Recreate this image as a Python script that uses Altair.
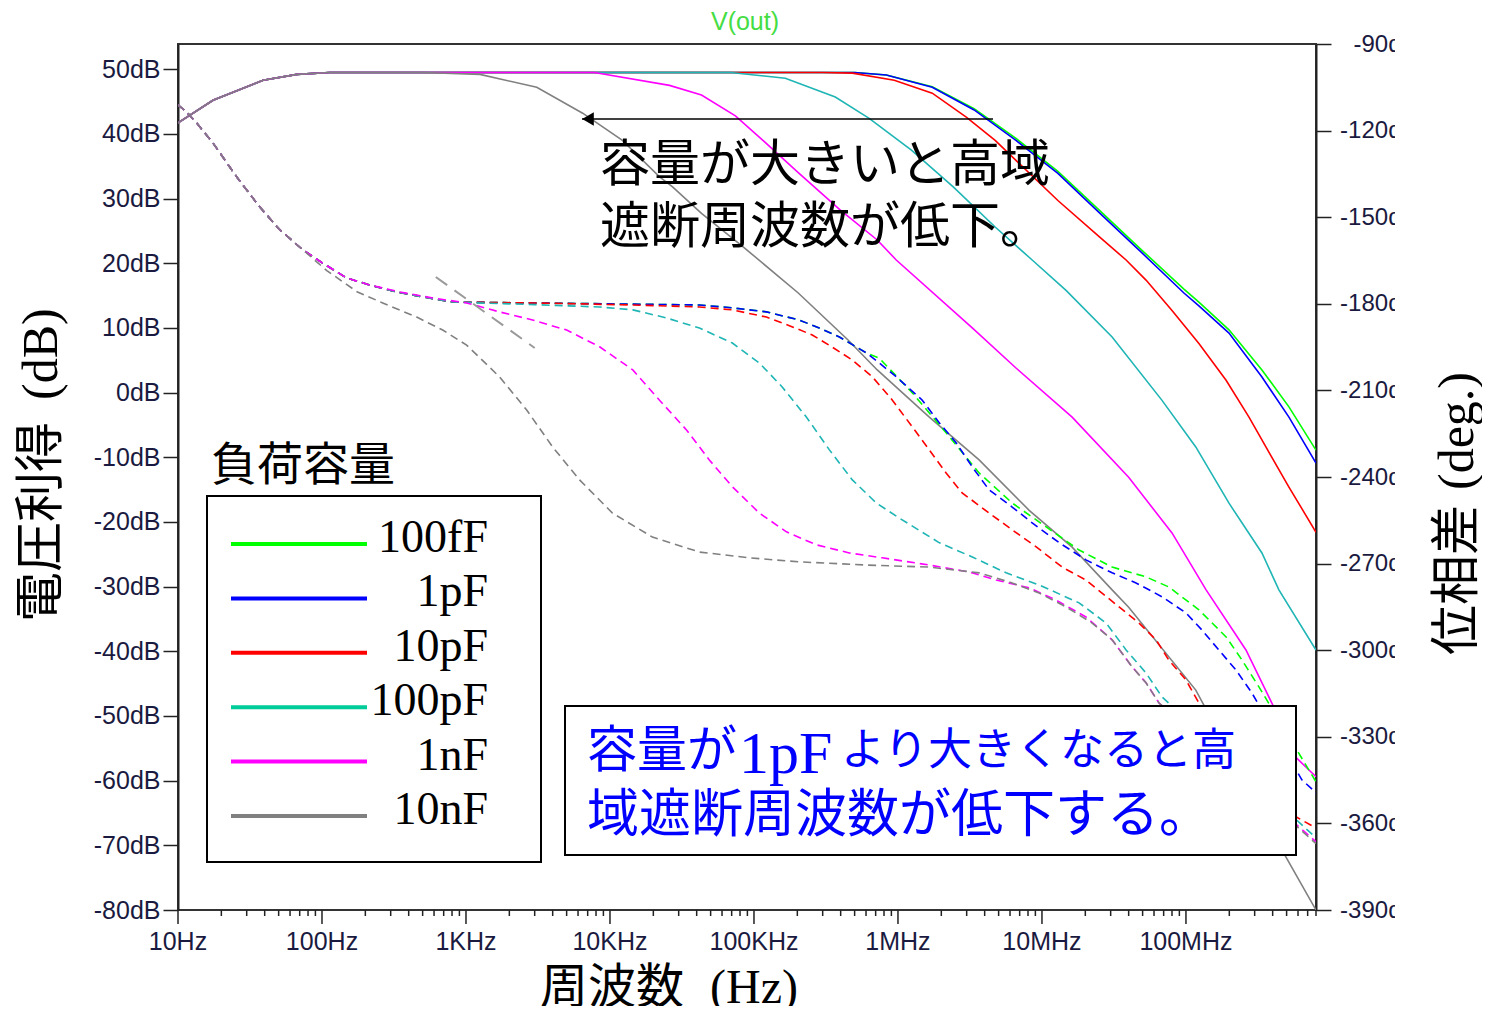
import altair as alt
import pandas as pd

# ---------------- data ----------------
CAPS = ["100fF", "1pF", "10pF", "100pF", "1nF", "10nF"]
LINE_COLORS = ["#00ff00", "#0000ff", "#ff0000", "#1fb5b5", "#ff00ff", "#808080"]
LEGEND_COLORS = ["#00ff00", "#0000ff", "#ff0000", "#00cc99", "#ff00ff", "#808080"]

X_TICKS = [10, 100, 1e3, 1e4, 1e5, 1e6, 1e7, 1e8]
X_LABELS = ["10Hz", "100Hz", "1KHz", "10KHz", "100KHz", "1MHz", "10MHz", "100MHz"]
GAIN_TICKS = [-80, -70, -60, -50, -40, -30, -20, -10, 0, 10, 20, 30, 40, 50]
PHASE_TICKS = [-390, -360, -330, -300, -270, -240, -210, -180, -150, -120, -90]
MINOR_F = [k * 10 ** e for e in range(1, 9) for k in range(2, 10) if k * 10 ** e <= 8e8]

# gain (dB) of each load capacitance
G_100fF_F = [10, 17.5, 39, 67, 113, 500e3, 830e3, 1.73e6, 3.38e6, 6.6e6, 12.9e6, 25.3e6, 49.5e6, 96.8e6, 123e6, 199e6, 337e6, 519e6, 8e8]
G_100fF_V = [41.7, 45.2, 48.3, 49.2, 49.5, 49.5, 49.1, 47.3, 43.9, 39.3, 34.2, 28.1, 22.0, 16.0, 14.0, 9.7, 3.5, -2.2, -8.9]
G_1pF_F = [10, 17.5, 39, 67, 113, 500e3, 830e3, 1.73e6, 3.38e6, 6.6e6, 12.9e6, 25.3e6, 49.5e6, 96.8e6, 123e6, 199e6, 337e6, 519e6, 8e8]
G_1pF_V = [41.7, 45.2, 48.3, 49.2, 49.5, 49.5, 49.1, 47.2, 43.7, 39.0, 33.9, 27.7, 21.6, 15.4, 13.4, 9.2, 2.4, -3.8, -10.9]
G_10pF_F = [10, 17.5, 39, 67, 113, 300e3, 482e3, 942e3, 1.73e6, 2.98e6, 4.73e6, 6.6e6, 12.9e6, 25.3e6, 38.4e6, 52.8e6, 80e6, 123e6, 190e6, 274e6, 359e6, 519e6, 8e8]
G_10pF_V = [41.7, 45.2, 48.3, 49.2, 49.5, 49.5, 49.4, 48.3, 46.3, 42.6, 39.0, 35.9, 29.7, 24.0, 20.5, 17.4, 12.7, 7.6, 1.9, -3.8, -8.4, -14.6, -21.6]
G_100pF_F = [10, 17.5, 39, 67, 113, 68.7e3, 165e3, 367e3, 631e3, 1.24e6, 2.42e6, 4.73e6, 8.55e6, 14.7e6, 30.7e6, 68.2e6, 117e6, 199e6, 337e6, 442e6, 8e8]
G_100pF_V = [41.7, 45.2, 48.3, 49.2, 49.5, 49.5, 48.6, 45.7, 42.4, 37.5, 31.8, 25.6, 20.5, 15.8, 8.6, -1.2, -8.4, -17.1, -24.8, -30.5, -39.8]
G_1nF_F = [10, 17.5, 39, 67, 113, 7.8e3, 25.9e3, 43.2e3, 74.3e3, 118e3, 203e3, 398e3, 718e3, 973e3, 3.28e6, 6.6e6, 16.2e6, 40e6, 80e6, 138e6, 261e6, 395e6, 580e6, 8e8]
G_1nF_V = [41.7, 45.2, 48.3, 49.2, 49.5, 49.5, 47.5, 46.0, 42.8, 38.8, 34.0, 28.2, 23.6, 20.5, 10.0, 3.8, -3.8, -13.1, -21.7, -30.5, -39.8, -48.0, -56.4, -59.4]
G_10nF_F = [10, 17.5, 39, 67, 113, 500, 1250, 3100, 6460, 12200, 22000, 27200, 43200, 84500, 203e3, 452e3, 718e3, 1.65e6, 3.66e6, 8.15e6, 16.2e6, 30.7e6, 40e6, 117e6, 494e6, 8e8]
G_10nF_V = [41.7, 45.2, 48.3, 49.2, 49.5, 49.5, 49.2, 47.2, 43.2, 39.0, 33.4, 31.8, 27.7, 22.5, 15.4, 8.1, 3.5, -3.8, -10.4, -18.2, -23.9, -30.5, -33.2, -46.0, -71.8, -80.0]

# phase (deg) of each load capacitance
P_100fF_F = [10, 11.5, 13.5, 17.5, 25.6, 37, 51, 74, 101, 149, 215, 330, 501, 809, 2900, 41.8e3, 70.8e3, 122e3, 206e3, 284e3, 392e3, 603e3, 741e3, 1.26e6, 2.16e6, 3.66e6, 6.21e6, 10.7e6, 18.1e6, 30.7e6, 52.8e6, 76e6, 123e6, 190e6, 245e6, 321e6, 8e8]
P_100fF_V = [-111.1, -113.6, -117.4, -124.3, -136.1, -146.5, -154.4, -161.4, -165.9, -171.1, -173.5, -175.9, -177.6, -179.4, -179.7, -180.4, -181.4, -182.8, -185.6, -188.4, -191.5, -197.0, -198.8, -210.9, -224.7, -238.6, -249.0, -257.3, -265.3, -271.2, -274.6, -278.1, -286.0, -295.4, -303.4, -312.7, -345.6]
P_1pF_F = [10, 11.5, 13.5, 17.5, 25.6, 37, 51, 74, 101, 149, 215, 330, 501, 809, 2900, 41.8e3, 70.8e3, 122e3, 206e3, 284e3, 392e3, 603e3, 741e3, 973e3, 1.47e6, 1.94e6, 2.54e6, 3.28e6, 4.3e6, 6.21e6, 8.55e6, 13.2e6, 20.2e6, 30.7e6, 45e6, 68.2e6, 100e6, 129e6, 169e6, 222e6, 287e6, 638e6, 8e8]
P_1pF_V = [-111.1, -113.6, -117.4, -124.3, -136.1, -146.5, -154.4, -161.4, -165.9, -171.1, -173.5, -175.9, -177.6, -179.4, -179.7, -180.4, -181.4, -182.8, -185.6, -188.4, -191.5, -197.0, -200.5, -205.3, -213.3, -221.3, -228.2, -236.5, -244.5, -250.4, -255.9, -262.8, -268.7, -273.2, -276.7, -281.5, -287.1, -293.0, -299.9, -306.8, -314.8, -344.9, -349.4]
P_10pF_F = [10, 11.5, 13.5, 17.5, 25.6, 37, 51, 74, 101, 149, 215, 330, 501, 809, 2900, 14.4e3, 41.8e3, 70.8e3, 122e3, 185e3, 254e3, 350e3, 482e3, 664e3, 912e3, 1.26e6, 1.65e6, 2.16e6, 2.79e6, 4.3e6, 6.21e6, 9.12e6, 13.8e6, 20.2e6, 34.3e6, 47.2e6, 62e6, 76e6, 100e6, 123e6, 580e6, 8e8]
P_10pF_V = [-111.1, -113.6, -117.4, -124.3, -136.1, -146.5, -154.4, -161.4, -165.9, -171.1, -173.5, -175.9, -177.6, -179.4, -179.7, -180.4, -181.1, -182.1, -184.6, -188.0, -190.8, -195.0, -199.5, -205.3, -213.3, -222.7, -230.6, -238.6, -245.5, -252.5, -258.3, -264.2, -271.2, -275.7, -285.0, -290.6, -296.4, -303.4, -310.3, -318.3, -357.7, -361.6]
P_100pF_F = [10, 11.5, 13.5, 17.5, 25.6, 37, 51, 74, 101, 149, 215, 330, 501, 809, 3000, 8470, 14.4e3, 24.7e3, 41.8e3, 70.8e3, 109e3, 157e3, 231e3, 334e3, 482e3, 707e3, 1.02e6, 1.94e6, 3.28e6, 5.64e6, 9.55e6, 18.1e6, 27.9e6, 38.4e6, 52.8e6, 68.2e6, 8e8]
P_100pF_V = [-111.1, -113.6, -117.4, -124.3, -136.1, -146.5, -154.4, -161.4, -165.9, -171.1, -173.5, -175.9, -177.6, -179.4, -180.3, -181.1, -182.1, -184.9, -188.4, -193.6, -200.5, -208.8, -219.2, -230.6, -241.0, -249.0, -254.2, -262.8, -267.7, -273.2, -277.4, -283.6, -290.6, -299.9, -307.9, -316.2, -365.0]
P_1nF_F = [10, 11.5, 13.5, 17.5, 25.6, 37, 51, 74, 101, 149, 215, 347, 588, 1010, 1710, 2900, 5000, 8470, 14.4e3, 22e3, 34e3, 49e3, 70.8e3, 109e3, 168e3, 271e3, 459e3, 778e3, 1.65e6, 3.13e6, 4.81e6, 8.15e6, 12.5e6, 20.2e6, 30.7e6, 42.3e6, 52.8e6, 65e6, 8e8]
P_1nF_V = [-111.1, -113.6, -117.4, -124.3, -136.1, -146.5, -154.4, -161.4, -165.9, -171.1, -173.5, -175.9, -178.0, -179.7, -182.8, -185.6, -189.1, -194.9, -202.9, -213.3, -223.7, -234.1, -243.4, -252.5, -259.0, -263.5, -266.3, -268.0, -270.5, -272.9, -275.7, -278.4, -282.6, -288.5, -296.4, -305.8, -311.3, -318.3, -366.4]
P_10nF_F = [10, 11.5, 13.5, 17.5, 25.6, 37, 51, 74, 108, 175, 264, 455, 689, 1010, 1710, 2640, 4000, 6150, 10.4e3, 19.7e3, 41.8e3, 92.9e3, 206e3, 603e3, 1.65e6, 3.66e6, 6.21e6, 9.55e6, 14.7e6, 22.3e6, 30.7e6, 42.3e6, 52.8e6, 65e6, 8e8]
P_10nF_V = [-111.1, -113.6, -117.4, -124.3, -136.1, -146.5, -154.4, -161.4, -168.5, -175.8, -179.7, -184.6, -189.1, -194.3, -205.3, -216.8, -229.6, -241.0, -252.5, -260.8, -266.0, -268.0, -269.4, -270.5, -271.2, -273.2, -276.7, -280.2, -285.0, -290.6, -296.4, -305.8, -311.3, -318.3, -367.0]

# stray long-dashed gray segment (phase coordinates)
ART_F = [617, 3000]
ART_V = [-170.7, -195.3]

GAIN = [(G_100fF_F, G_100fF_V), (G_1pF_F, G_1pF_V), (G_10pF_F, G_10pF_V),
        (G_100pF_F, G_100pF_V), (G_1nF_F, G_1nF_V), (G_10nF_F, G_10nF_V)]
PHASE = [(P_100fF_F, P_100fF_V), (P_1pF_F, P_1pF_V), (P_10pF_F, P_10pF_V),
         (P_100pF_F, P_100pF_V), (P_1nF_F, P_1nF_V), (P_10nF_F, P_10nF_V)]

# ---------------- styling ----------------
JP = "Noto Sans CJK JP"
SERIF = "Liberation Serif"
SANS = "Liberation Sans"
AXIS_INK = "#222222"
LABEL_INK = "#1a1a40"

XSCALE = alt.Scale(type="log", domain=[10, 8e8], nice=False)
GSCALE = alt.Scale(domain=[-80, 53.9], nice=False, zero=False)
PSCALE = alt.Scale(domain=[-390, -90], nice=False, zero=False)

AX = dict(labelFont=SANS, labelColor=LABEL_INK,
          domainColor=AXIS_INK, tickColor=AXIS_INK, domainWidth=2, tickWidth=1.5,
          grid=False, title=None, labelOverlap=False, labelFlush=False)

g_axis = alt.Axis(values=GAIN_TICKS, labelExpr="datum.value + 'dB'", tickSize=15,
                  labelPadding=3, labelFontSize=25, **AX)
p_axis = alt.Axis(orient="right", values=PHASE_TICKS, labelExpr="datum.value + 'd'",
                  labelAlign="right", tickSize=15, labelPadding=70, labelFontSize=24, **AX)

ONE = pd.DataFrame({"k": [0]})
NOX = alt.X("f:Q", scale=XSCALE, axis=None)

layers = []
for i, (f, v) in enumerate(GAIN):
    df = pd.DataFrame({"f": f, "v": v})
    layers.append(
        alt.Chart(df).mark_line(color=LINE_COLORS[i], strokeWidth=1.6, clip=True).encode(
            x=NOX, y=alt.Y("v:Q", scale=GSCALE, axis=g_axis if i == 0 else None),
        )
    )

for i, (f, v) in enumerate(PHASE):
    df = pd.DataFrame({"f": f, "v": v})
    layers.append(
        alt.Chart(df).mark_line(color=LINE_COLORS[i], strokeWidth=1.6, strokeDash=[8, 5], clip=True).encode(
            x=NOX, y=alt.Y("v:Q", scale=PSCALE, axis=p_axis if i == 0 else None),
        )
    )
layers.append(
    alt.Chart(pd.DataFrame({"f": ART_F, "v": ART_V})).mark_line(
        color="#9a9a9a", strokeWidth=2, strokeDash=[14, 9], clip=True).encode(
        x=NOX, y=alt.Y("v:Q", scale=PSCALE, axis=None),
    )
)

# frequency axis: major ticks, minor ticks and labels through the x scale
layers.append(
    alt.Chart(pd.DataFrame({"f": MINOR_F})).mark_rule(color=AXIS_INK, strokeWidth=1.5).encode(
        x=NOX, y=alt.value(866), y2=alt.value(872))
)
xt_df = pd.DataFrame({"f": X_TICKS, "lab": X_LABELS})
layers.append(
    alt.Chart(xt_df).mark_rule(color=AXIS_INK, strokeWidth=1.5).encode(
        x=NOX, y=alt.value(866), y2=alt.value(880))
)
layers.append(
    alt.Chart(xt_df).mark_text(font=SANS, fontSize=25, color=LABEL_INK, align="center",
                               baseline="middle").encode(
        x=NOX, y=alt.value(898), text="lab:N")
)


def txt(s, x, y, size, font, color="black", align="left", angle=0, baseline="middle"):
    return alt.Chart(ONE).mark_text(text=s, font=font, fontSize=size, color=color, align=align,
                                    baseline=baseline, angle=angle).encode(x=alt.value(x), y=alt.value(y))


def box(x1, x2, y1, y2):
    return alt.Chart(ONE).mark_rect(fill="white", stroke="black", strokeWidth=2).encode(
        x=alt.value(x1), x2=alt.value(x2), y=alt.value(y1), y2=alt.value(y2))


# arrow annotation
layers.append(alt.Chart(ONE).mark_rule(color="black", strokeWidth=1.5).encode(
    x=alt.value(404), x2=alt.value(815), y=alt.value(75)))
layers.append(alt.Chart(ONE).mark_point(shape="triangle-left", filled=True, color="black", size=180, opacity=1).encode(
    x=alt.value(410), y=alt.value(75)))
layers.append(txt("容量が大きいと高域", 422, 122, 50, JP))
layers.append(txt("遮断周波数が低下。", 422, 184, 50, JP))

# legend
legend_df = pd.DataFrame({"cap": CAPS, "row": list(range(len(CAPS)))})
ROW_SCALE = alt.Scale(domain=[0, 5], range=[500, 772])
layers.append(box(29, 363, 452, 818))
layers.append(txt("負荷容量", 33, 422, 46, JP))
layers.append(alt.Chart(legend_df).mark_rule(strokeWidth=4).encode(
    x=alt.value(53), x2=alt.value(189),
    y=alt.Y("row:Q", scale=ROW_SCALE, axis=None),
    color=alt.Color("cap:N", scale=alt.Scale(domain=CAPS, range=LEGEND_COLORS), legend=None),
))
layers.append(alt.Chart(legend_df).mark_text(align="right", baseline="alphabetic", font=SERIF,
                                             fontSize=46, color="black", dy=8).encode(
    x=alt.value(310), y=alt.Y("row:Q", scale=ROW_SCALE, axis=None), text="cap:N"))

# blue note
layers.append(box(387, 1118, 662, 811))
layers.append(txt("容量が", 409, 708, 50, JP, color="#0000ff"))
layers.append(txt("1pF", 561, 711, 60, SERIF, color="#0000ff"))
layers.append(txt("より大きくなると高", 663, 708, 44, JP, color="#0000ff"))
layers.append(txt("域遮断周波数が低下する。", 409, 772, 52, JP, color="#0000ff"))

# axis titles
layers.append(txt("電圧利得", -136, 578, 50, JP, angle=270))
layers.append(txt("(dB)", -136, 356, 50, SERIF, angle=270))
layers.append(txt("位相差", 1280, 611, 50, JP, angle=270))
layers.append(txt("(deg.)", 1280, 446, 50, SERIF, angle=270))
layers.append(txt("周波数", 362, 945, 48, JP))
layers.append(txt("(Hz)", 532, 945, 48, SERIF))
layers.append(txt("V(out)", 567, -22, 25, SANS, color="#44dd44", align="center"))

# hides the tail of the phase-axis unit, as in the original
layers.append(alt.Chart(ONE).mark_rect(fill="white").encode(
    x=alt.value(1217), x2=alt.value(1250), y=alt.value(-40), y2=alt.value(885)))

chart = alt.layer(*layers).resolve_scale(y="independent").properties(
    width=1138, height=866,
    autosize=alt.AutoSizeParams(type="none"),
    padding={"left": 170, "top": 36, "right": 166, "bottom": 96},
).configure_view(stroke="#333333", strokeWidth=2)

chart.save("out.html", embed_options={"renderer": "svg", "actions": False})
